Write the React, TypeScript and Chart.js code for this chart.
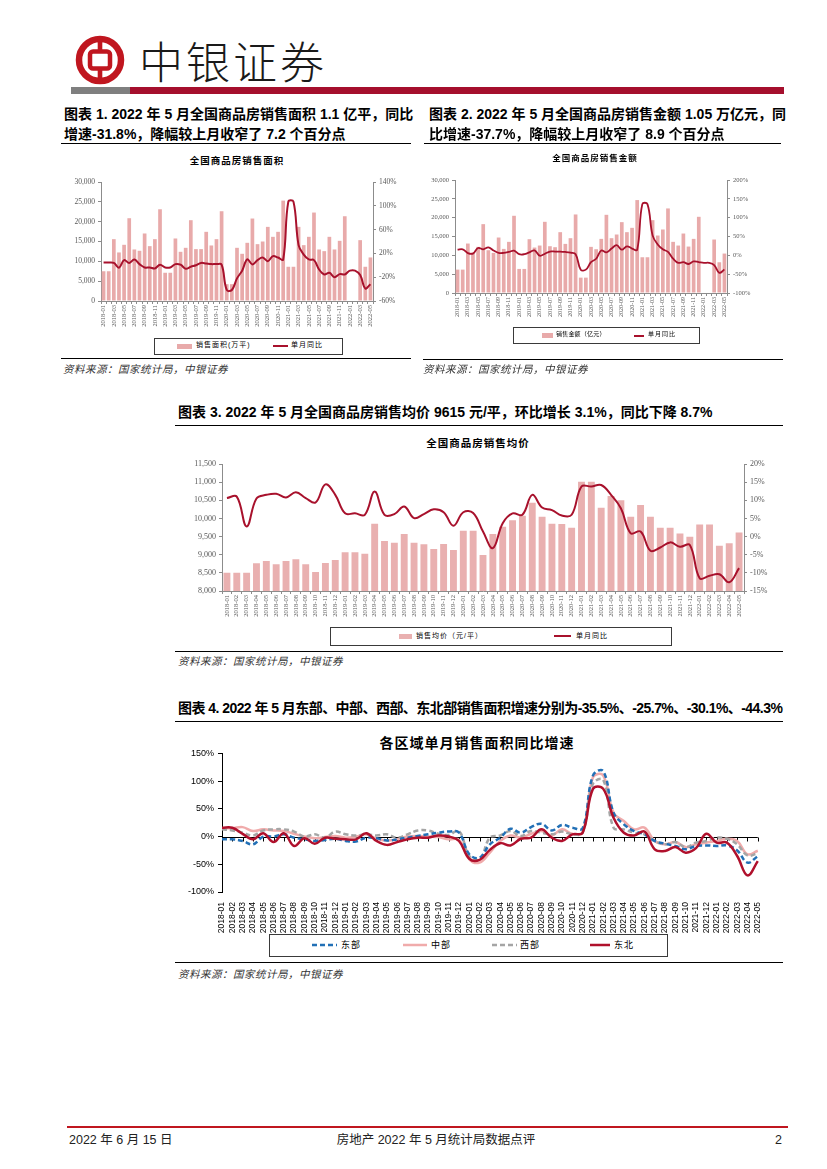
import React, { useEffect, useRef } from "react";
import { Chart, registerables } from "chart.js";

Chart.register(...registerables);

// ---------- categories ----------
const months = [
  "2018-01", "2018-02", "2018-03", "2018-04", "2018-05", "2018-06", "2018-07", "2018-08", "2018-09", "2018-10", "2018-11", "2018-12",
  "2019-01", "2019-02", "2019-03", "2019-04", "2019-05", "2019-06", "2019-07", "2019-08", "2019-09", "2019-10", "2019-11", "2019-12",
  "2020-01", "2020-02", "2020-03", "2020-04", "2020-05", "2020-06", "2020-07", "2020-08", "2020-09", "2020-10", "2020-11", "2020-12",
  "2021-01", "2021-02", "2021-03", "2021-04", "2021-05", "2021-06", "2021-07", "2021-08", "2021-09", "2021-10", "2021-11", "2021-12",
  "2022-01", "2022-02", "2022-03", "2022-04", "2022-05",
];

// ---------- chart 1: sales area (万平) and YoY (%) ----------
const areaValues = [
  7500, 7500, 15590, 12240, 14170, 20870, 12990, 12660, 17020, 13830, 15590, 23130,
  7120, 7120, 15760, 12400, 13410, 20370, 13080, 13080, 17440, 14000, 15590, 22630,
  4240, 4240, 13410, 11900, 14670, 20790, 14330, 15000, 18690, 16180, 17440, 25310,
  8630, 8630, 18690, 14080, 16180, 22300, 12990, 12570, 16180, 12990, 15170, 21370,
  null, null, 15340, 8630, 10980,
];
const areaYoY = [
  4.8, 4.8, 4, -4, 8.7, 4, 9.8, 2, -3.6, -3.6, -5.3, 1,
  -3.6, -3.6, 2, 1, -5.8, -2.4, 0, 4, 3, 2, 2, 1,
  -41.5, -41.5, -22, -9, 10, 1.5, 8.7, 13, 7, 15.4, 13, 9.8,
  107, 107, 34, 18, 9.8, 8.7, -7, -15.4, -12.6, -20, -14.8, -15.4,
  -9, -9, -16.5, -39, -31.8,
];

// ---------- chart 2: sales amount (亿元) and YoY (%) ----------
const amountValues = [
  6210, 6210, 13130, 10800, 12250, 18280, 11360, 10650, 14730, 11710, 13580, 20500,
  6390, 6390, 14290, 12070, 12600, 18900, 12420, 12160, 16150, 13040, 14550, 20850,
  4080, 4080, 12250, 11620, 14370, 20760, 14550, 15530, 18810, 16150, 17300, 24670,
  9490, 9490, 19340, 15260, 16860, 22450, 13580, 12600, 15790, 12330, 14370, 20230,
  null, null, 14200, 8160, 10470,
];
const amountYoY = [
  15, 16, 6, 4.5, 19.5, 16, 21, 13, 6.5, 6.5, 9, 12.5,
  3, 3, 8, 13, -1, 4, 10, 10, 10, 9, 7, 3,
  -38, -38, -18, -9, 13, 8, 18, 27, 15, 24, 18, 15,
  136, 136, 53, 29, 16, 9, -9, -20, -18, -23, -16, -18,
  -20, -20, -26, -46.6, -37.7,
];

// ---------- chart 3: average price (元/平) and YoY (%) ----------
const priceValues = [
  8500, 8500, 8500, 8762, 8826, 8735, 8826, 8872, 8735, 8523, 8771, 8854,
  9065, 9065, 9028, 9855, 9377, 9331, 9570, 9331, 9285, 9157, 9295, 9130,
  9662, 9662, 8992, 9570, 9772, 9947, 10075, 10433, 10048, 9855, 9846, 9745,
  11012, 11012, 10296, 10617, 10498, 10048, 10369, 10048, 9745, 9745, 9588, 9496,
  9836, 9836, 9249, 9313, 9615,
];
const priceYoY = [
  10.6, 11, 2.8, 10.5, 11.5, 11.8, 10.8, 12.2, 10.6, 9.4, 14.4, 11.5,
  6.4, 6.4, 6, 12.4, 6, 6.2, 8.3, 5.1, 6.2, 7.5, 6.7, 3,
  6.7, 6.5, 1.4, -3.2, 3.7, 6.4, 6, 11.5, 8, 7.3, 5.8, 6,
  13.8, 13.8, 14.2, 11.5, 7.8, 0.9, 1.4, -3.9, -3, -1.6, -2.8, -2.3,
  -11.5, -10.8, -10.4, -12.6, -8.7,
];

// ---------- chart 4: regional YoY (%) ----------
const eastYoY = [
  -5, -5, -8, -14, 0, 0, 4, -2, -5, -8, -6, -4,
  -8, -9, -2, -3, -7, -5, -2, 1, 4, 7, 9, 7,
  -32, -38, -14, -2, 14, 7, 17, 23, 11, 21, 16, 15,
  110, 118, 43, 22, 10, 4, -8, -13, -17, -23, -17, -16,
  -17, -16, -25, -47, -35.5,
];
const centralYoY = [
  15, 15, 17, 10, 13, 11, 10, 5, 0, -3, -1, 1,
  -2, 0, 4, -4, -7, -5, 0, 1, 0, -1, -5, -6,
  -41, -47, -29, -8, 2, -2, 5, 10, 2, 13, 5, 7,
  107, 110, 43, 28, 13, 16, -8, -14, -10, -19, -14, -11,
  -8, -4, -8, -32, -25.7,
];
const westYoY = [
  13, 11, 7, 2, 11, 13, 13, 9, 0, 4, -2, 9,
  4, 2, 4, 2, 4, -2, 4, 11, 11, 5, 3, 10,
  -35, -41, -2, 2, 10, 1, 10, 7, 4, 9, 4, 7,
  95, 102, 16, 13, 7, 4, -8, -14, -10, -19, -11, -8,
  -2, -4, -14, -34, -30.1,
];
const northeastYoY = [
  16, 16, 5, -5, 6, -10, 6, -17, -3, -13, -2, -4,
  -5, -5, 6, -8, -15, -10, -5, -2, -2, 2, 0, -8,
  -40, -42, -24, -12, -16, -4, -2, 13, -2, -8, 4, 7,
  86, 86, 34, 7, 2, 9, -23, -26, -19, -29, -21, 5,
  -11, -11, -35, -70, -44.3,
];

// ---------- styling ----------
const SERIF = "'Liberation Serif', 'Times New Roman', serif";
const SANS = "'Liberation Sans', Arial, sans-serif";
const CJK = "'Liberation Sans', 'Noto Sans CJK SC', sans-serif";
const RED = "#A8112C";
const BAR = "#E8AAAA";
const AXIS = "#8C8C8C";

function dualConfig(p: any): any {
  return {
    type: "bar",
    data: {
      labels: months,
      datasets: [
        {
          type: "line", label: "单月同比", data: p.line, yAxisID: "y1",
          borderColor: RED, backgroundColor: RED, borderWidth: p.lineW,
          pointRadius: 0, tension: 0.4, order: 0,
        },
        {
          type: "bar", label: p.barLabel, data: p.bars, yAxisID: "y",
          backgroundColor: p.barColor, barPercentage: p.barPct, categoryPercentage: 1, order: 1,
        },
      ],
    },
    options: {
      animation: false, responsive: false, maintainAspectRatio: false,
      layout: { padding: { top: p.padTop, left: 0, right: 0, bottom: 0 } },
      plugins: { legend: { display: false }, title: { display: false }, tooltip: { enabled: false } },
      scales: {
        x: {
          offset: true,
          grid: { display: true, drawOnChartArea: false, drawTicks: true, tickLength: 3, color: AXIS },
          border: { display: true, color: AXIS },
          ticks: {
            autoSkip: false, maxRotation: 90, minRotation: 90, padding: 1, color: "#595959",
            font: { family: SERIF, size: p.xFont },
            callback: (_v: any, i: number) => (p.every2 && i % 2 ? "" : months[i]),
          },
          afterFit: (s: any) => { s.height = p.xH; },
        },
        y: {
          position: "left", min: p.yMin, max: p.yMax,
          ticks: {
            stepSize: p.yStep, color: "#595959", padding: 3,
            font: { family: SERIF, size: p.yFont },
            callback: (v: number) => v.toLocaleString("en-US"),
          },
          grid: { drawOnChartArea: false, tickLength: 3, color: AXIS },
          border: { color: AXIS },
          afterFit: (s: any) => { s.width = p.leftW; },
        },
        y1: {
          position: "right", min: p.y1Min, max: p.y1Max,
          ticks: {
            stepSize: p.y1Step, color: "#595959", padding: 3,
            font: { family: SERIF, size: p.yFont },
            callback: (v: number) => v + "%",
          },
          grid: { drawOnChartArea: false, tickLength: 3, color: AXIS },
          border: { color: AXIS },
          afterFit: (s: any) => { s.width = p.rightW; },
        },
      },
    },
  };
}

const zeroLinePlugin = {
  id: "zeroLine",
  beforeDatasetsDraw(chart: any) {
    const { ctx, chartArea, scales } = chart;
    const y0 = Math.round(scales.y.getPixelForValue(0)) + 0.5;
    ctx.save();
    ctx.strokeStyle = "#000";
    ctx.lineWidth = 1;
    ctx.beginPath();
    ctx.moveTo(chartArea.left, y0);
    ctx.lineTo(chartArea.right, y0);
    for (let i = 0; i < months.length; i++) {
      const x = Math.round(scales.x.getPixelForValue(i)) + 0.5;
      ctx.moveTo(x, y0);
      ctx.lineTo(x, y0 + 4);
    }
    ctx.stroke();
    ctx.restore();
  },
};

function regionConfig(): any {
  return {
    type: "line",
    data: {
      labels: months,
      datasets: [
        { label: "东北", data: northeastYoY, borderColor: "#B0102C", borderWidth: 2.5, order: 0 },
        { label: "东部", data: eastYoY, borderColor: "#2270B6", borderWidth: 2.5, borderDash: [5, 3], order: 1 },
        { label: "中部", data: centralYoY, borderColor: "#F0ABAB", borderWidth: 2.5, order: 3 },
        { label: "西部", data: westYoY, borderColor: "#A5A5A5", borderWidth: 2.5, borderDash: [5, 3], order: 2 },
      ],
    },
    options: {
      animation: false, responsive: false, maintainAspectRatio: false,
      layout: { padding: { top: 6, left: 0, right: 11, bottom: 0 } },
      elements: { line: { tension: 0.4 }, point: { radius: 0 } },
      plugins: { legend: { display: false }, title: { display: false }, tooltip: { enabled: false } },
      scales: {
        x: {
          offset: false,
          grid: { display: false },
          border: { display: false },
          ticks: {
            autoSkip: false, maxRotation: 90, minRotation: 90, padding: 2, color: "#000",
            font: { family: SANS, size: 8.5 },
          },
          afterFit: (s: any) => { s.height = 42; },
        },
        y: {
          min: -100, max: 150,
          ticks: {
            stepSize: 50, color: "#000", padding: 4,
            font: { family: SANS, size: 9 },
            callback: (v: number) => v + "%",
          },
          grid: { drawOnChartArea: false, tickLength: 4, color: "#000" },
          border: { color: "#000" },
          afterFit: (s: any) => { s.width = 52; },
        },
      },
    },
    plugins: [zeroLinePlugin],
  };
}

function ChartCanvas({ left, top, width, height, make }: any) {
  const ref = useRef<HTMLCanvasElement>(null);
  useEffect(() => {
    const c = new Chart(ref.current as HTMLCanvasElement, make());
    return () => c.destroy();
  }, []);
  return (
    <canvas
      ref={ref}
      width={width}
      height={height}
      style={{ position: "absolute", left, top, width, height, display: "block" }}
    />
  );
}

function T({ x, y, size, bold, italic, color, ls, family, children, center, w }: any) {
  const style: any = {
    position: "absolute", top: y, fontSize: size, lineHeight: `${Math.round(size * 1.4)}px`,
    fontWeight: bold ? 700 : 400, fontStyle: italic ? "italic" : "normal",
    color: color || "#000", letterSpacing: ls || 0, fontFamily: family || CJK, whiteSpace: "nowrap",
  };
  if (center) {
    style.left = x - (w || 400) / 2;
    style.width = w || 400;
    style.textAlign = "center";
  } else {
    style.left = x;
  }
  return <div style={style}>{children}</div>;
}

function Rule({ x1, x2, y, color, h }: any) {
  return (
    <div style={{ position: "absolute", left: x1, top: y, width: x2 - x1, height: h || 1, background: color || "#000" }} />
  );
}

function Box({ x1, x2, y1, y2 }: any) {
  return (
    <div style={{ position: "absolute", left: x1, top: y1, width: x2 - x1, height: y2 - y1, border: "1px solid #3a3a3a", boxSizing: "border-box" }} />
  );
}

function Swatch({ x, y, w, h, color }: any) {
  return <div style={{ position: "absolute", left: x, top: y, width: w, height: h, background: color }} />;
}

function DashSwatch({ x, y, w, color, dash }: any) {
  return (
    <svg style={{ position: "absolute", left: x, top: y - 3 }} width={w} height={6}>
      <line x1={0} y1={3} x2={w} y2={3} stroke={color} strokeWidth={2.5} strokeDasharray={dash ? "5,3" : undefined} />
    </svg>
  );
}

const SRC = "资料来源：国家统计局，中银证券";

export default function App() {
  return (
    <div style={{ position: "absolute", left: 0, top: 0, width: 827, height: 1169, background: "#fff", overflow: "hidden" }}>
      {/* header */}
      <svg style={{ position: "absolute", left: 75, top: 35 }} width={50} height={50} viewBox="-25 -25 50 50">
        <circle r={21} fill="none" stroke="#C0161F" strokeWidth={6.5} />
        <rect x={-10} y={-8.5} width={20} height={17} rx={3} fill="none" stroke="#C0161F" strokeWidth={4.5} />
        <rect x={-2.3} y={-23} width={4.6} height={14.5} fill="#C0161F" />
        <rect x={-2.3} y={8.5} width={4.6} height={14.5} fill="#C0161F" />
      </svg>
      <div style={{ position: "absolute", left: 139, top: 34, fontSize: 44, lineHeight: "52px", letterSpacing: 3, fontFamily: "'Noto Sans CJK SC', sans-serif", fontWeight: 300, color: "#1a1a1a" }}>
        中银证券
      </div>
      <Rule x1={71} x2={130} y={87} h={7} color="#7F7F7F" />
      <Rule x1={130} x2={784} y={87} h={7} color="#A50F2D" />

      {/* chart 1 heading */}
      <T x={64} y={104} size={14} bold>图表 1. 2022 年 5 月全国商品房销售面积 1.1 亿平，同比</T>
      <T x={64} y={124} size={14} bold>增速-31.8%，降幅较上月收窄了 7.2 个百分点</T>
      <Rule x1={61} x2={411} y={143} />
      <T x={237} y={154} size={9.5} bold center w={200} ls={1} family="'Noto Sans CJK SC', sans-serif">全国商品房销售面积</T>
      <ChartCanvas
        left={56} top={172} width={362} height={156}
        make={() => dualConfig({
          bars: areaValues, line: areaYoY, barLabel: "销售面积(万平)", barColor: BAR, barPct: 0.72, lineW: 2,
          padTop: 10, leftW: 45, rightW: 45, xH: 27, xFont: 6.5, yFont: 7.5, every2: true,
          yMin: 0, yMax: 30000, yStep: 5000, y1Min: -60, y1Max: 140, y1Step: 20,
        })}
      />
      <Box x1={154} x2={343} y1={338} y2={355} />
      <Swatch x={177} y={344} w={15} h={5} color={BAR} />
      <T x={196} y={340} size={7} ls={1}>销售面积(万平)</T>
      <Swatch x={273} y={345} w={15} h={2} color={RED} />
      <T x={291} y={340} size={7} ls={1}>单月同比</T>
      <Rule x1={61} x2={411} y={358} />
      <T x={63} y={362} size={10.5} italic color="#333" ls={0.5}>{SRC}</T>

      {/* chart 2 heading */}
      <T x={429} y={104} size={14} bold>图表 2. 2022 年 5 月全国商品房销售金额 1.05 万亿元，同</T>
      <T x={429} y={124} size={14} bold>比增速-37.7%，降幅较上月收窄了 8.9 个百分点</T>
      <Rule x1={424} x2={781} y={143} />
      <T x={595} y={151} size={8.5} bold center w={200} ls={1} family="'Noto Sans CJK SC', sans-serif">全国商品房销售金额</T>
      <ChartCanvas
        left={410} top={170} width={362} height={151}
        make={() => dualConfig({
          bars: amountValues, line: amountYoY, barLabel: "销售金额（亿元）", barColor: BAR, barPct: 0.72, lineW: 1.8,
          padTop: 10, leftW: 45, rightW: 45, xH: 28, xFont: 6, yFont: 6.5, every2: true,
          yMin: 0, yMax: 30000, yStep: 5000, y1Min: -100, y1Max: 200, y1Step: 50,
        })}
      />
      <Box x1={513} x2={700} y1={327} y2={344} />
      <Swatch x={542} y={333} w={11} h={5} color={BAR} />
      <T x={556} y={330} size={6} ls={0.2}>销售金额（亿元）</T>
      <Swatch x={634} y={335} w={10} h={2} color={RED} />
      <T x={648} y={330} size={6} ls={1}>单月同比</T>
      <Rule x1={423} x2={783} y={359} />
      <T x={423} y={362} size={10.5} italic color="#333" ls={0.5}>{SRC}</T>

      {/* chart 3 */}
      <T x={178} y={402} size={14} bold>图表 3. 2022 年 5 月全国商品房销售均价 9615 元/平，环比增长 3.1%，同比下降 8.7%</T>
      <Rule x1={175} x2={783} y={425} />
      <T x={478} y={435} size={10.5} bold center w={200} ls={1} family="'Noto Sans CJK SC', sans-serif">全国商品房销售均价</T>
      <ChartCanvas
        left={170} top={455} width={610} height={172}
        make={() => dualConfig({
          bars: priceValues, line: priceYoY, barLabel: "销售均价（元/平）", barColor: "#E9B0B0", barPct: 0.7, lineW: 2,
          padTop: 9, leftW: 52, rightW: 36, xH: 36, xFont: 6.5, yFont: 8, every2: false,
          yMin: 8000, yMax: 11500, yStep: 500, y1Min: -15, y1Max: 20, y1Step: 5,
        })}
      />
      <Box x1={330} x2={672} y1={627} y2={646} />
      <Swatch x={399} y={634} w={13} h={5} color="#E9B0B0" />
      <T x={416} y={631} size={7} ls={1}>销售均价（元/平）</T>
      <Swatch x={554} y={635} w={17} h={2} color={RED} />
      <T x={576} y={631} size={7} ls={1}>单月同比</T>
      <Rule x1={175} x2={783} y={651} />
      <T x={178} y={654} size={10.5} italic color="#333" ls={0.5}>{SRC}</T>

      {/* chart 4 */}
      <T x={178} y={698} size={14} bold ls={-0.55}>图表 4. 2022 年 5 月东部、中部、西部、东北部销售面积增速分别为-35.5%、-25.7%、-30.1%、-44.3%</T>
      <Rule x1={175} x2={783} y={721} />
      <T x={477} y={732} size={14} bold center w={300} ls={1} family="'Noto Sans CJK SC', sans-serif">各区域单月销售面积同比增速</T>
      <ChartCanvas left={170} top={744} width={600} height={190} make={regionConfig} />
      <Box x1={269} x2={668} y1={934} y2={957} />
      <DashSwatch x={312} y={945} w={25} color="#2270B6" dash />
      <T x={341} y={939} size={9} ls={1}>东部</T>
      <DashSwatch x={403} y={945} w={24} color="#F0ABAB" />
      <T x={431} y={939} size={9} ls={1}>中部</T>
      <DashSwatch x={492} y={945} w={25} color="#A5A5A5" dash />
      <T x={520} y={939} size={9} ls={1}>西部</T>
      <DashSwatch x={590} y={945} w={20} color="#B0102C" />
      <T x={614} y={939} size={9} ls={1}>东北</T>
      <Rule x1={175} x2={783} y={962} />
      <T x={178} y={967} size={10.5} italic color="#333" ls={0.5}>{SRC}</T>

      {/* footer */}
      <Rule x1={67} x2={788} y={1126} h={2} color="#C0161F" />
      <T x={69} y={1131} size={12.5} color="#222">2022 年 6 月 15 日</T>
      <T x={436} y={1131} size={12.5} color="#222" center w={300}>房地产 2022 年 5 月统计局数据点评</T>
      <T x={775} y={1131} size={12.5} color="#222">2</T>
    </div>
  );
}
